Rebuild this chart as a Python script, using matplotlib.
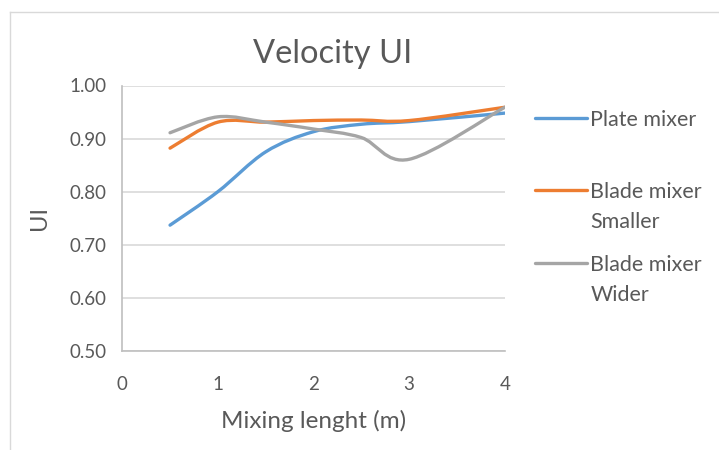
import matplotlib
matplotlib.use("Agg")
import matplotlib.pyplot as plt
from matplotlib.path import Path
from matplotlib.patches import PathPatch
from matplotlib.lines import Line2D

plt.rcParams['font.family'] = ['Lato', 'DejaVu Sans']

# data
mixing_length = [0.5, 1.0, 1.5, 2.0, 2.5, 3.0, 4.0]
plate_mixer = [0.737, 0.800, 0.875, 0.913, 0.927, 0.932, 0.948]
blade_smaller = [0.882, 0.931, 0.931, 0.934, 0.935, 0.934, 0.959]
blade_wider = [0.911, 0.941, 0.931, 0.918, 0.902, 0.861, 0.959]

series_names = ["Plate mixer", "Blade mixer\nSmaller", "Blade mixer\nWider"]
series_colors = ["#5B9BD5", "#ED7D31", "#A5A5A5"]
y_ticks = [0.5, 0.6, 0.7, 0.8, 0.9, 1.0]
x_ticks = [0, 1, 2, 3, 4]

TEXT = "#595959"


def smooth_path(xs, ys):
    # excel style smoothed line: cubic bezier through every point
    n = len(xs)
    verts = [(xs[0], ys[0])]
    codes = [Path.MOVETO]
    for i in range(n - 1):
        x0, y0 = xs[max(i - 1, 0)], ys[max(i - 1, 0)]
        x1, y1 = xs[i], ys[i]
        x2, y2 = xs[i + 1], ys[i + 1]
        x3, y3 = xs[min(i + 2, n - 1)], ys[min(i + 2, n - 1)]
        c1 = (x1 + (x2 - x0) / 6, y1 + (y2 - y0) / 6)
        c2 = (x2 - (x3 - x1) / 6, y2 - (y3 - y1) / 6)
        verts += [c1, c2, (x2, y2)]
        codes += [Path.CURVE4] * 3
    return Path(verts, codes)


fig = plt.figure(figsize=(7.19, 4.5), dpi=100)
ax = fig.add_axes([0.170, 0.220, 0.532, 0.590])

for vals, col in zip([plate_mixer, blade_smaller, blade_wider], series_colors):
    ax.add_patch(PathPatch(smooth_path(mixing_length, vals), facecolor="none",
                           edgecolor=col, lw=2.4, capstyle="round", zorder=3))

ax.set_xlim(0, 4)
ax.set_ylim(0.5, 1.0)
ax.set_xticks(x_ticks)
ax.set_yticks(y_ticks)
ax.set_yticklabels([f"{v:.2f}" for v in y_ticks])
ax.tick_params(length=0, colors=TEXT, labelsize=13.5)
ax.tick_params(axis="x", pad=18)
ax.tick_params(axis="y", pad=11)
ax.grid(axis="y", color="#D9D9D9", lw=1.2)
ax.set_axisbelow(True)
for s in ["top", "right"]:
    ax.spines[s].set_visible(False)
for s in ["left", "bottom"]:
    ax.spines[s].set_color("#BFBFBF")
    ax.spines[s].set_linewidth(1.2)

ax.set_xlabel("Mixing lenght (m)", fontsize=17.5, color=TEXT, labelpad=12)
ax.set_ylabel("UI", fontsize=17, color=TEXT, labelpad=14)
ax.set_title("Velocity UI", fontsize=23.5, color=TEXT, pad=16)
ax.title.set_x(0.55)

# legend drawn by hand so the line sits beside the first text line
leg_y = [0.738, 0.578, 0.416]
line_gap = 0.067
for name, col, yy in zip(series_names, series_colors, leg_y):
    fig.add_artist(Line2D([0.744, 0.816], [yy, yy], color=col, lw=2.4,
                          solid_capstyle="round"))
    for k, part in enumerate(name.split("\n")):
        fig.text(0.821, yy - k * line_gap, part, fontsize=15.5, color=TEXT,
                 va="center_baseline")

# chart area border (partly visible in the reference)
fig.add_artist(Line2D([0.014, 0.014], [0.0, 0.973], color="#D9D9D9", lw=1))
fig.add_artist(Line2D([0.014, 1.0], [0.973, 0.973], color="#D9D9D9", lw=1))

fig.savefig("out.png", dpi=100)
